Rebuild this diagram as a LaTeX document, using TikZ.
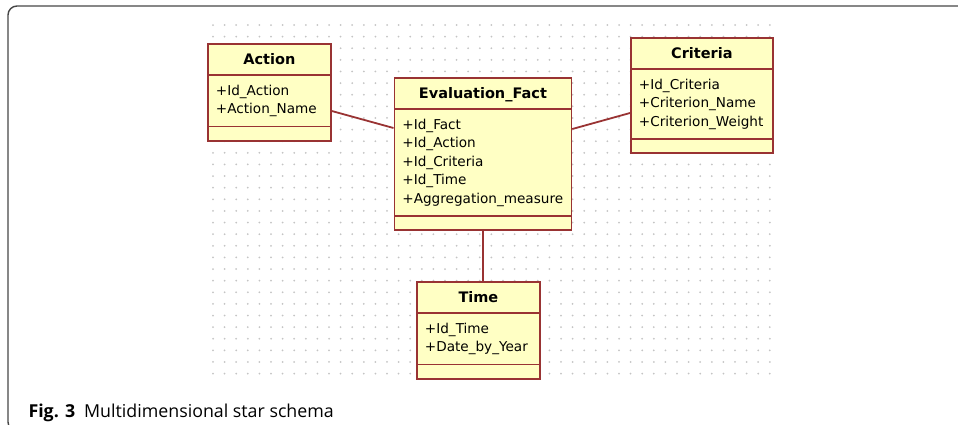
\documentclass[tikz,border=0pt]{standalone}
\usepackage{fontspec}
\setmainfont{DejaVu Sans}
\newfontfamily\capfont{Open Sans}
\usetikzlibrary{shapes.multipart,calc}
\definecolor{umlfill}{RGB}{255,255,196}
\definecolor{umlline}{RGB}{153,51,51}
\definecolor{griddot}{RGB}{196,196,196}
\definecolor{framegray}{RGB}{70,70,70}
% class compartments: struts fix the heights, no inner ysep
\newcommand{\clsname}[1]{{\fontsize{14.5}{19}\selectfont\bfseries\rule[-9.5pt]{0pt}{29.5pt}#1}}
\newcommand{\clsattrs}[1]{\begin{tabular}{@{}l@{}}\rule{0pt}{19.2pt}#1\rule[-11.8pt]{0pt}{0pt}\end{tabular}}
\newcommand{\clsops}{\rule{0pt}{12.5pt}}

\begin{document}
\begin{tikzpicture}[x=1pt,y=-1pt,
  cls/.style={draw=umlline,line width=1.8pt,fill=umlfill,rectangle split,rectangle split parts=3,
    rectangle split part align={center,left,left},
    anchor=north west,inner xsep=8pt,inner ysep=0pt,
    font=\fontsize{13.6}{18.5}\selectfont},
  link/.style={draw=umlline,line width=1.8pt}]
  \useasboundingbox (0,0) rectangle (958,424);
  \begin{scope}
    \clip (0,0) rectangle (958,424);
    \draw[framegray,line width=1.4pt,rounded corners=9pt] (8,6) rectangle (975,431);
  \end{scope}
  % dotted drawing grid
  \foreach \i in {0,...,48}
    \foreach \j in {0,...,30}
      \fill[griddot] (213+11.6*\i,25+11.62*\j) circle (1pt);
  % classes
  \node[cls,minimum width=123pt] (act) at (207,43) {\clsname{Action}
    \nodepart{two}\clsattrs{+Id\_Action\\+Action\_Name}
    \nodepart{three}\clsops};
  \node[cls,minimum width=177pt] (fact) at (393.5,77) {\clsname{Evaluation\_Fact}
    \nodepart{two}\clsattrs{+Id\_Fact\\+Id\_Action\\+Id\_Criteria\\+Id\_Time\\+Aggregation\_measure}
    \nodepart{three}\clsops};
  \node[cls,minimum width=142pt] (crit) at (630,37) {\clsname{Criteria}
    \nodepart{two}\clsattrs{+Id\_Criteria\\+Criterion\_Name\\+Criterion\_Weight}
    \nodepart{three}\clsops};
  \node[cls,minimum width=123pt] (time) at (416,281) {\clsname{Time}
    \nodepart{two}\clsattrs{+Id\_Time\\+Date\_by\_Year}
    \nodepart{three}\clsops};
  % associations
  \draw[link] ([yshift=-68pt]act.north east) -- ([yshift=-51pt]fact.north west);
  \draw[link] ([yshift=-52pt]fact.north east) -- ([yshift=-76pt]crit.north west);
  \draw[link] (fact.south) -- (fact.south |- time.north);
  \node[anchor=base west,font=\capfont\fontsize{17.8}{20}\selectfont] (cap) at (25,417)
    {\textbf{Fig. 3}\hspace{0.5em}Multidimensional star schema};
\end{tikzpicture}
\end{document}
